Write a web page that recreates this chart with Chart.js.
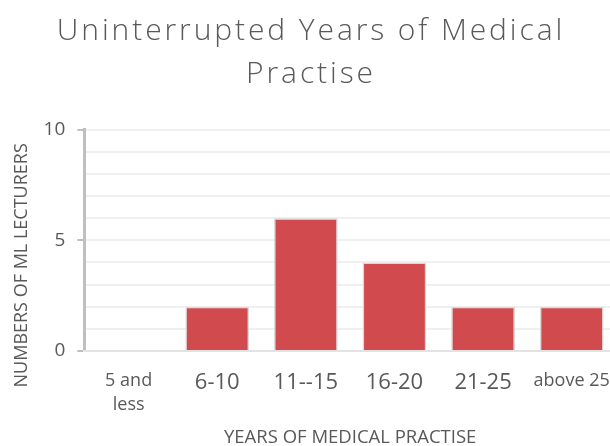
<!DOCTYPE html>
<html>
<head>
<meta charset="utf-8">
<script src="https://cdn.jsdelivr.net/npm/chart.js@4"></script>
<style>
  html, body { margin: 0; padding: 0; background: #fff; overflow: hidden; }
  .wrap { width: 616px; height: 446px; position: relative; }
</style>
</head>
<body>
<div class="wrap"><canvas id="myChart"></canvas></div>
<script>
const categories = [['5 and', 'less'], '6-10', '11--15', '16-20', '21-25', 'above 25'];
const lecturers = [0, 2, 6, 4, 2, 2];
const yTickLabels = [0, 5, 10];

const grey = '#595959';

const data = {
    labels: categories,
    datasets: [{
        label: 'Lecturers',
        data: lecturers,
        backgroundColor: '#d14a4d',
        borderColor: '#d9d9d9',
        borderWidth: 1.5,
        barPercentage: 0.72,
        categoryPercentage: 1
    }]
};

// the title in the picture is spaced out, and the y title sits a bit low
const tweaks = {
    id: 'tweaks',
    afterInit(chart) {
        const tb = chart.titleBlock;
        if (!tb) return;
        const draw = tb.draw;
        tb.draw = function(area) {
            const ctx = chart.ctx;
            ctx.save();
            ctx.translate(2, 0);
            ctx.letterSpacing = '2.9px';
            draw.call(this, area);
            ctx.restore();
        };
    },
    afterUpdate(chart) {
        const y = chart.scales.y;
        if (!y || y._lowered) return;
        const drawTitle = y.drawTitle;
        y.drawTitle = function() {
            const ctx = chart.ctx;
            ctx.save();
            ctx.translate(1, 25);
            drawTitle.call(this);
            ctx.restore();
        };
        y._lowered = true;
    }
};

const config = {
    type: 'bar',
    data,
    options: {
        responsive: true,
        maintainAspectRatio: false,
        animation: false,
        layout: {
            padding: { left: 2, right: 0, top: 10, bottom: 0 }
        },
        scales: {
            y: {
                min: 0,
                max: 10,
                ticks: {
                    stepSize: 1,
                    autoSkip: false,
                    color: grey,
                    padding: 12,
                    font: { family: 'Open Sans', size: 19 },
                    callback: (value) => yTickLabels.includes(value) ? value : ''
                },
                grid: {
                    color: '#f0f0f0',
                    lineWidth: 2,
                    tickLength: 7,
                    tickWidth: 2,
                    tickColor: (ctx) => ctx.tick && yTickLabels.includes(ctx.tick.value) ? '#bfbfbf' : 'rgba(0,0,0,0)'
                },
                border: { color: '#bfbfbf', width: 3 },
                title: {
                    display: true,
                    text: 'NUMBERS OF ML LECTURERS',
                    color: grey,
                    font: { family: 'Open Sans', size: 18 },
                    padding: { top: 8, bottom: 0 }
                }
            },
            x: {
                afterFit(scale) {
                    scale.paddingRight = 0;
                },
                grid: { display: true, drawOnChartArea: false, drawTicks: false },
                border: { color: '#e3e3e3', width: 2 },
                ticks: {
                    color: grey,
                    padding: 18,
                    maxRotation: 0,
                    autoSkip: false,
                    font: (ctx) => ({
                        family: 'Open Sans',
                        size: (ctx.index === 0 || ctx.index === 5) ? 18 : 22,
                        lineHeight: (ctx.index === 0 || ctx.index === 5) ? 1.33 : 1.3
                    })
                },
                title: {
                    display: true,
                    text: 'YEARS OF MEDICAL PRACTISE',
                    color: grey,
                    font: { family: 'Open Sans', size: 18.5 },
                    padding: { top: -8, bottom: -3 }
                }
            }
        },
        plugins: {
            legend: { display: false },
            tooltip: { enabled: false },
            title: {
                display: true,
                text: ['Uninterrupted Years of Medical', 'Practise'],
                color: grey,
                font: { family: 'Open Sans', size: 30, weight: 300, lineHeight: 1.43 },
                padding: { top: 0, bottom: 34 }
            }
        }
    },
    plugins: [tweaks]
};

const myChart = new Chart(
    document.getElementById('myChart').getContext('2d'),
    config
);
</script>
</body>
</html>
